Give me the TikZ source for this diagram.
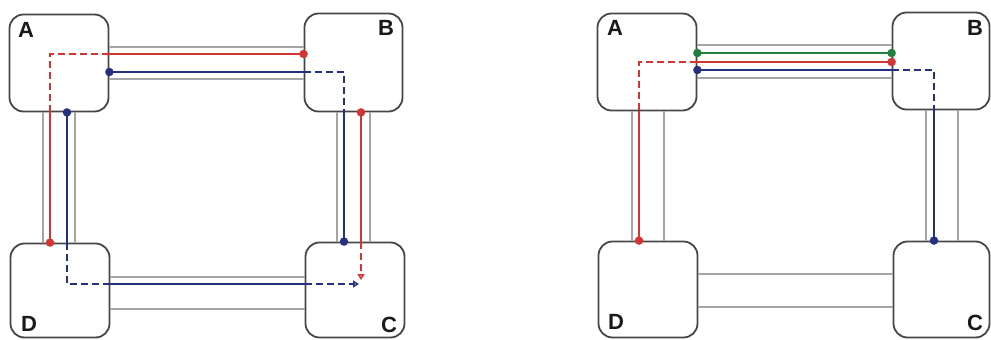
\documentclass[tikz,border=0pt]{standalone}
\usepackage{fontspec}
\setmainfont{Liberation Sans}
\usetikzlibrary{arrows.meta}
\definecolor{boxc}{RGB}{70,70,70}
\definecolor{linkc}{RGB}{165,165,165}
\definecolor{redc}{RGB}{212,52,52}
\definecolor{bluec}{RGB}{38,48,128}
\definecolor{greenc}{RGB}{32,128,62}
\tikzset{
  box/.style={draw=boxc, line width=1.8pt, rounded corners=14pt, inner sep=0pt},
  lbl/.style={font=\bfseries\fontsize{22}{22}\selectfont, inner sep=0pt, text=black!90},
  link/.style={draw=linkc, line width=1.4pt},
  redl/.style={draw=redc, line width=1.5pt},
  bluel/.style={draw=bluec, line width=1.7pt},
  greenl/.style={draw=greenc, line width=1.7pt},
  dsh/.style={dash pattern=on 7pt off 4pt},
  tip/.style={-{Triangle[open,length=6pt,width=7pt]}},
  rdot/.style={fill=redc, draw=none, circle, minimum size=8.5pt, inner sep=0pt},
  bdot/.style={fill=bluec, draw=none, circle, minimum size=8.5pt, inner sep=0pt},
  gdot/.style={fill=greenc, draw=none, circle, minimum size=8.5pt, inner sep=0pt}
}
\begin{document}
\begin{tikzpicture}[x=1pt,y=-1pt]
\useasboundingbox (0,0) rectangle (991,340);

% ---------- left ring ----------
\node[box, minimum width=99pt, minimum height=97pt] (lA) at (59,63) {};
\node[box, minimum width=98pt, minimum height=98pt] (lB) at (353.5,62.5) {};
\node[box, minimum width=99pt, minimum height=94pt] (lD) at (60,290.5) {};
\node[box, minimum width=99pt, minimum height=95pt] (lC) at (355,290) {};
\node[lbl] (tlA) at (26,30) {A};
\node[lbl] (tlB) at (386,28) {B};
\node[lbl] (tlD) at (29,324) {D};
\node[lbl] (tlC) at (389,325) {C};

% physical links
\draw[link] (lA.east |- 0,47) -- (lB.west |- 0,47);
\draw[link] (lA.east |- 0,79) -- (lB.west |- 0,79);
\draw[link] (lA.south -| 43,0) -- (lD.north -| 43,0);
\draw[link] (lA.south -| 75,0) -- (lD.north -| 75,0);
\draw[link] (lB.south -| 337,0) -- (lC.north -| 337,0);
\draw[link] (lB.south -| 370,0) -- (lC.north -| 370,0);
\draw[link] (lD.east |- 0,277) -- (lC.west |- 0,277);
\draw[link] (lD.east |- 0,309) -- (lC.west |- 0,309);

% red path B -> A -> D
\draw[redl] (lB.west |- 0,54) -- (lA.east |- 0,54);
\draw[redl, dsh] (lA.east |- 0,54) -- (50,54) -- (lA.south -| 50,0);
\draw[redl] (lA.south -| 50,0) -- (lD.north -| 50,0);
% blue path A -> B -> C
\draw[bluel] (lA.east |- 0,72) -- (lB.west |- 0,72);
\draw[bluel, dsh] (lB.west |- 0,72) -- (344,72) -- (lB.south -| 344,0);
\draw[bluel] (lB.south -| 344,0) -- (lC.north -| 344,0);
% blue path A -> D -> C
\draw[bluel] (lA.south -| 67,0) -- (lD.north -| 67,0);
\draw[bluel, dsh] (lD.north -| 67,0) -- (67,284) -- (lD.east |- 0,284);
\draw[bluel] (lD.east |- 0,284) -- (lC.west |- 0,284);
\draw[bluel, dsh, tip] (lC.west |- 0,284) -- (359,284);
% red path B -> C
\draw[redl] (lB.south -| 361,0) -- (lC.north -| 361,0);
\draw[redl, dsh, tip] (lC.north -| 361,0) -- (361,280);

\node[rdot] (d1) at (lB.west |- 0,54) {};
\node[rdot] (d2) at (lD.north -| 50,0) {};
\node[bdot] (d3) at (lA.east |- 0,72) {};
\node[bdot] (d4) at (lC.north -| 344,0) {};
\node[bdot] (d5) at (lA.south -| 67,0) {};
\node[rdot] (d6) at (lB.south -| 361,0) {};

% ---------- right ring ----------
\node[box, minimum width=99pt, minimum height=97pt] (rA) at (647,62) {};
\node[box, minimum width=97pt, minimum height=97pt] (rB) at (941,61) {};
\node[box, minimum width=99pt, minimum height=96pt] (rD) at (648,289.5) {};
\node[box, minimum width=96pt, minimum height=96pt] (rC) at (941.5,289.5) {};
\node[lbl] (trA) at (615,28) {A};
\node[lbl] (trB) at (975,28) {B};
\node[lbl] (trD) at (616,322) {D};
\node[lbl] (trC) at (975,323) {C};

\draw[link] (rA.east |- 0,45) -- (rB.west |- 0,45);
\draw[link] (rA.east |- 0,78) -- (rB.west |- 0,78);
\draw[link] (rA.south -| 632,0) -- (rD.north -| 632,0);
\draw[link] (rA.south -| 664,0) -- (rD.north -| 664,0);
\draw[link] (rB.south -| 926,0) -- (rC.north -| 926,0);
\draw[link] (rB.south -| 958,0) -- (rC.north -| 958,0);
\draw[link] (rD.east |- 0,274) -- (rC.west |- 0,274);
\draw[link] (rD.east |- 0,307) -- (rC.west |- 0,307);

% green path A -> B
\draw[greenl] (rA.east |- 0,53) -- (rB.west |- 0,53);
% red path B -> A -> D
\draw[redl] (rB.west |- 0,62) -- (rA.east |- 0,62);
\draw[redl, dsh] (rA.east |- 0,62) -- (639,62) -- (rA.south -| 639,0);
\draw[redl] (rA.south -| 639,0) -- (rD.north -| 639,0);
% blue path A -> B -> C
\draw[bluel] (rA.east |- 0,70) -- (rB.west |- 0,70);
\draw[bluel, dsh] (rB.west |- 0,70) -- (934,70) -- (rB.south -| 934,0);
\draw[bluel] (rB.south -| 934,0) -- (rC.north -| 934,0);

\node[gdot] (e1) at (rA.east |- 0,53) {};
\node[gdot] (e2) at (rB.west |- 0,53) {};
\node[rdot] (e3) at (rB.west |- 0,62) {};
\node[rdot] (e4) at (rD.north -| 639,0) {};
\node[bdot] (e5) at (rA.east |- 0,70) {};
\node[bdot] (e6) at (rC.north -| 934,0) {};
\end{tikzpicture}
\end{document}
